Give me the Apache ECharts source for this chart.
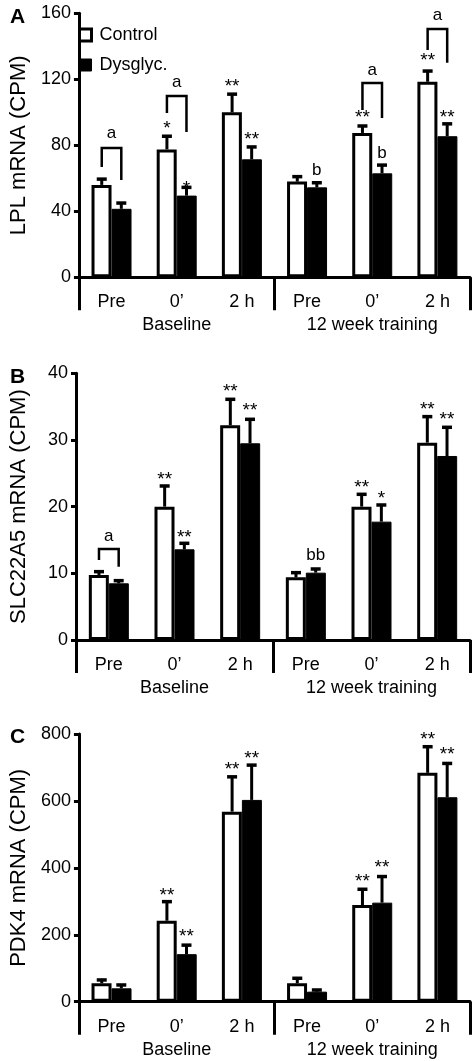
<!DOCTYPE html>
<html><head><meta charset="utf-8">
<script src="https://cdn.jsdelivr.net/npm/echarts@6/dist/echarts.min.js"></script>
<style>html,body{margin:0;padding:0;background:#fff}#c{width:472px;height:1061px}</style>
</head><body><div id="c"></div>
<script>
const categories = ['Pre', '0\u2019', '2 h', 'Pre', '0\u2019', '2 h'];
const groups = ['Baseline', '12 week training'];
const seriesNames = ['Control', 'Dysglyc.'];

const lplTicks = [0, 40, 80, 120, 160];
const lplControl = [56, 77.5, 100, 58, 87.5, 118.5];
const lplControlErr = [59.5, 85.5, 111, 61, 91.7, 125];
const lplDys = [41.5, 49.5, 71.5, 54.5, 63, 85.5];
const lplDysErr = [45, 54.5, 79, 57.3, 68, 93];

const slcTicks = [0, 10, 20, 30, 40];
const slcControl = [9.75, 20, 32.2, 9.4, 20, 29.6];
const slcControlErr = [10.25, 23.1, 36.1, 10.1, 21.85, 33.5];
const slcDys = [8.5, 13.6, 29.5, 10.1, 17.75, 27.6];
const slcDysErr = [8.9, 14.5, 33.1, 10.65, 20.25, 31.9];

const pdkTicks = [0, 200, 400, 600, 800];
const pdkControl = [55, 242, 568, 55, 289, 684];
const pdkControlErr = [65, 299, 672, 70, 336, 762];
const pdkDys = [40, 142, 603, 30, 296, 611];
const pdkDysErr = [50, 169, 707, 35, 374, 712];

// significance marks: [category, bar (0 = Control, 1 = Dysglyc.), y value, text]
const lplMarks = [[1,0,92.9,'*'],[1,1,56.5,'*'],[2,0,118.4,'**'],[2,1,86.2,'**'],[3,1,65,'b'],[4,0,99.6,'**'],[4,1,75.3,'b'],[5,0,134.1,'**'],[5,1,99.6,'**']];
const slcMarks = [[1,0,24.75,'**'],[1,1,16.1,'**'],[2,0,38,'**'],[2,1,35.1,'**'],[3,1,12.75,'bb'],[4,0,23.6,'**'],[4,1,22,'*'],[5,0,35.25,'**'],[5,1,33.75,'**']];
const pdkMarks = [[1,0,331.7,'**'],[1,1,209,'**'],[2,0,707,'**'],[2,1,742,'**'],[4,0,373.6,'**'],[4,1,415.4,'**'],[5,0,797,'**'],[5,1,752,'**']];
// brackets: [category, top y, left end y, right end y, label y, label]
const lplBrackets = [[0,78.4,66.8,59,87.5,'a'],[1,109.9,99.6,88,118.4,'a'],[4,117.8,101.4,96.5,125.6,'a'],[5,150.5,137.8,130,159,'a']];
const slcBrackets = [[0,13.65,12,11,15.5,'a']];
const pdkBrackets = [];

const FONT = '"Liberation Sans", Arial, Helvetica, sans-serif';
const BAR_OFF = 0.15;

function errRender(params, api) {
  const cat = api.value(0), side = api.value(1), v = api.value(2), e = api.value(3);
  const band = api.size([1, 0])[0];
  const x = api.coord([cat, v])[0] + (side === 0 ? -1 : 1) * band * BAR_OFF;
  const y0 = api.coord([cat, v])[1], y1 = api.coord([cat, e])[1];
  return {type: 'group', children: [
    {type: 'line', shape: {x1: x, y1: y0, x2: x, y2: y1}, style: {stroke: '#000', lineWidth: 3}},
    {type: 'line', shape: {x1: x - 5, y1: y1, x2: x + 5, y2: y1}, style: {stroke: '#000', lineWidth: 3.5}}
  ]};
}
function makeMarkRender(marks) {
  return function (params, api) {
    const m = marks[params.dataIndex];
    const band = api.size([1, 0])[0];
    const p = api.coord([m[0], m[2]]);
    const x = p[0] + (m[1] === 0 ? -1 : 1) * band * BAR_OFF;
    const isStar = m[3].indexOf('*') >= 0;
    return {type: 'text', style: {text: m[3], x: x, y: p[1] + (isStar ? 5 : 0), align: 'center', verticalAlign: 'middle',
      font: (isStar ? '19px ' : '17px ') + FONT, fill: '#000'}};
  };
}
function makeBracketRender(brs) {
  return function (params, api) {
    const b = brs[params.dataIndex];
    const band = api.size([1, 0])[0];
    const cx = api.coord([b[0], b[1]])[0];
    const xl = cx - band * BAR_OFF, xr = cx + band * BAR_OFF;
    const yt = api.coord([b[0], b[1]])[1], yl = api.coord([b[0], b[2]])[1], yr = api.coord([b[0], b[3]])[1];
    const yLab = api.coord([b[0], b[4]])[1];
    return {type: 'group', children: [
      {type: 'polyline', shape: {points: [[xl, yl], [xl, yt], [xr, yt], [xr, yr]]}, style: {stroke: '#000', lineWidth: 2.5, fill: null}},
      {type: 'text', style: {text: b[5], x: cx, y: yLab, align: 'center', verticalAlign: 'middle', font: '17px ' + FONT, fill: '#000'}}
    ]};
  };
}

const panels = [
  {name: 'LPL mRNA (CPM)', ticks: lplTicks, c: lplControl, ce: lplControlErr, d: lplDys, de: lplDysErr, marks: lplMarks, br: lplBrackets, top: 13.3, height: 264, letter: 'A'},
  {name: 'SLC22A5 mRNA (CPM)', ticks: slcTicks, c: slcControl, ce: slcControlErr, d: slcDys, de: slcDysErr, marks: slcMarks, br: slcBrackets, top: 373.3, height: 266.7, letter: 'B'},
  {name: 'PDK4 mRNA (CPM)', ticks: pdkTicks, c: pdkControl, ce: pdkControlErr, d: pdkDys, de: pdkDysErr, marks: pdkMarks, br: pdkBrackets, top: 734, height: 267.7, letter: 'C'}
];

const grid = [], xAxis = [], yAxis = [], series = [], title = [];
panels.forEach((p, i) => {
  grid.push({left: 70, width: 400, top: p.top, height: p.height});
  title.push({text: p.letter, left: 5, top: p.top - 12, textStyle: {fontSize: 21, fontWeight: 'bold', fontFamily: FONT, color: '#000'}});
  xAxis.push({gridIndex: i, type: 'category', data: categories, boundaryGap: true,
    axisLine: {lineStyle: {color: '#000', width: 3}}, axisTick: {show: false},
    axisLabel: {interval: 0, margin: 16, fontSize: 18, color: '#000', fontFamily: FONT}});
  xAxis.push({gridIndex: i, type: 'category', data: groups, boundaryGap: true, position: 'bottom',
    axisLine: {show: false}, axisTick: {show: true, length: 33, lineStyle: {color: '#000', width: 3}},
    axisLabel: {interval: 0, margin: 39, fontSize: 18, color: '#000', fontFamily: FONT}});
  const step = p.ticks[1] - p.ticks[0];
  yAxis.push({gridIndex: i, type: 'value', min: p.ticks[0], max: p.ticks[p.ticks.length - 1], interval: step,
    name: p.name, nameLocation: 'middle', nameGap: 46, nameTextStyle: {fontSize: 22, color: '#000', fontFamily: FONT},
    axisLine: {show: true, lineStyle: {color: '#000', width: 3}}, axisTick: {show: true, length: 5, lineStyle: {color: '#000', width: 3}},
    splitLine: {show: false}, axisLabel: {margin: 8, fontSize: 18, color: '#000', fontFamily: FONT}});
  const xi = i * 2;
  series.push({type: 'bar', name: seriesNames[0], xAxisIndex: xi, yAxisIndex: i, data: p.c, barWidth: 20, barGap: '0%',
    itemStyle: {color: '#fff', borderColor: '#000', borderWidth: 3}, animation: false});
  series.push({type: 'bar', name: seriesNames[1], xAxisIndex: xi, yAxisIndex: i, data: p.d, barWidth: 20, barGap: '0%',
    itemStyle: {color: '#000', borderColor: '#000', borderWidth: 1}, animation: false});
  const errData = p.c.map((v, k) => [k, 0, v, p.ce[k]]).concat(p.d.map((v, k) => [k, 1, v, p.de[k]]));
  series.push({type: 'custom', xAxisIndex: xi, yAxisIndex: i, data: errData, renderItem: errRender, clip: false, z: 5,
    encode: {x: 0, y: [2, 3]}, animation: false, silent: true});
  series.push({type: 'custom', xAxisIndex: xi, yAxisIndex: i, data: p.marks.map(m => [m[0], m[1], m[2]]), renderItem: makeMarkRender(p.marks),
    clip: false, z: 6, encode: {x: 0, y: 2}, animation: false, silent: true});
  if (p.br.length) {
    series.push({type: 'custom', xAxisIndex: xi, yAxisIndex: i, data: p.br.map(b => [b[0], b[1]]), renderItem: makeBracketRender(p.br),
      clip: false, z: 6, encode: {x: 0, y: 1}, animation: false, silent: true});
  }
});

const chart = echarts.init(document.getElementById('c'), null, {renderer: 'canvas'});
chart.setOption({
  backgroundColor: '#fff',
  animation: false,
  textStyle: {fontFamily: FONT},
  title: title,
  legend: {orient: 'vertical', left: 73, top: 21, itemWidth: 12, itemHeight: 12, itemGap: 12, icon: 'rect',
    textStyle: {fontSize: 18, color: '#000', fontFamily: FONT, padding: [0, 0, 0, 3]},
    data: [{name: 'Control', itemStyle: {color: '#fff', borderColor: '#000', borderWidth: 3}},
           {name: 'Dysglyc.', itemStyle: {color: '#000', borderColor: '#000', borderWidth: 1}}]},
  grid: grid, xAxis: xAxis, yAxis: yAxis, series: series
});
</script></body></html>
